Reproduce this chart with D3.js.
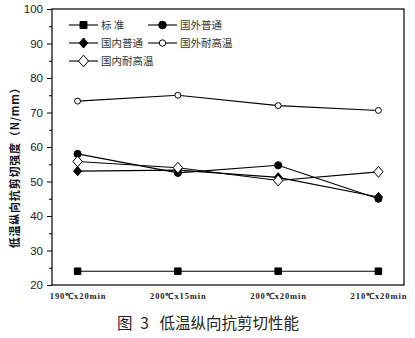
<!DOCTYPE html>
<html><head><meta charset="utf-8">
<script src="https://cdn.jsdelivr.net/npm/d3@7"></script>
<style>body{margin:0;background:#fff}svg{display:block}</style>
</head><body>
<svg id="c" width="415" height="338"></svg>
<script>
const categories = ["190℃x20min","200℃x15min","200℃x20min","210℃x20min"];
const seriesNames = ["标 准","国外普通","国内普通","国外耐高温","国内耐高温"];
const standard   = [24, 24, 24, 24];
const foreignGen = [58, 52.5, 54.7, 45];
const domesticGen= [53, 53.3, 51.2, 45.5];
const foreignHT  = [73.3, 75, 72, 70.6];
const domesticHT = [55.8, 54, 50.3, 52.8];
const yTicks = [20,30,40,50,60,70,80,90,100];
const yMinorTicks = [25,35,45,55,65,75,85,95];
const yLabel = "低温纵向抗剪切强度（N/mm）";
const title = "图\u20023\u2002\u2009低温纵向抗剪切性能";

const seriesValues = [standard, foreignGen, domesticGen, foreignHT, domesticHT];
const wideDiamond = { draw(ctx, size){ const h=Math.sqrt(size), w=h*0.85; ctx.moveTo(0,-h); ctx.lineTo(w,0); ctx.lineTo(0,h); ctx.lineTo(-w,0); ctx.closePath(); } };
const markerTypes = [
  {sym:d3.symbolSquare, size:42, fill:"#000"},
  {sym:d3.symbolCircle, size:40, fill:"#000"},
  {sym:wideDiamond, size:22, fill:"#000"},
  {sym:d3.symbolCircle, size:28, fill:"#fff"},
  {sym:wideDiamond, size:30, fill:"#fff"}
];

const svg = d3.select("#c");
const L=52, R=404, T=9, B=285;
const x = d3.scalePoint().domain(categories).range([L,R]).padding(0.255);
const y = d3.scaleLinear().domain([20,100]).range([B,T]);

svg.append("rect").attr("x",L).attr("y",T).attr("width",R-L).attr("height",B-T)
  .attr("fill","none").attr("stroke","#000").attr("stroke-width",1.2);

const yAx = svg.append("g").attr("transform",`translate(${L},0)`)
  .call(d3.axisLeft(y).tickValues(yTicks).tickSize(5).tickPadding(4).tickFormat(d3.format("d")));
yAx.select(".domain").remove();
yAx.selectAll("text").attr("font-family","Liberation Sans, Arial, sans-serif").attr("font-size","11.5px").attr("fill","#222");
yAx.selectAll("line").attr("stroke","#000");
const yMin = svg.append("g").attr("transform",`translate(${L},0)`)
  .call(d3.axisLeft(y).tickValues(yMinorTicks).tickSize(3).tickFormat(""));
yMin.select(".domain").remove();

const xAx = svg.append("g").attr("transform",`translate(0,${B})`)
  .call(d3.axisBottom(x).tickSize(0).tickPadding(8));
xAx.select(".domain").remove();
xAx.selectAll("text").attr("font-family","Liberation Serif, serif").attr("font-weight","bold")
  .attr("font-size","8.5px").attr("fill","#222").attr("letter-spacing","0.9px");

svg.append("text").attr("transform",`translate(19,${(T+B)/2 + 18}) rotate(-90)`)
  .attr("text-anchor","middle").attr("font-family","Noto Sans CJK SC, sans-serif")
  .attr("font-weight","bold").attr("font-size","11px").attr("fill","#112").attr("letter-spacing","0.8px").text(yLabel);

const line = d3.line().x((d,i)=>x(categories[i])).y(d=>y(d));
seriesValues.forEach((vals,k)=>{
  svg.append("path").datum(vals).attr("d",line).attr("fill","none").attr("stroke","#000").attr("stroke-width",1.1);
});
seriesValues.forEach((vals,k)=>{
  const m = markerTypes[k];
  svg.append("g").selectAll("path").data(vals).join("path")
    .attr("transform",(d,i)=>`translate(${x(categories[i])},${y(d)})`)
    .attr("d",d3.symbol().type(m.sym).size(m.size))
    .attr("fill",m.fill).attr("stroke","#000").attr("stroke-width",1);
});

const legendPos = [[69,25],[148,25],[69,43],[148,43],[69,61]];
seriesNames.forEach((name,k)=>{
  const [lx,ly] = legendPos[k];
  const g = svg.append("g").attr("transform",`translate(${lx},${ly})`);
  g.append("line").attr("x1",0).attr("x2",29).attr("y1",0).attr("y2",0).attr("stroke","#000").attr("stroke-width",1.1);
  const m = markerTypes[k];
  g.append("path").attr("transform","translate(14.5,0)").attr("d",d3.symbol().type(m.sym).size(m.size*1.15))
    .attr("fill",m.fill).attr("stroke","#000");
  g.append("text").attr("x",32).attr("y",4).attr("font-family","Noto Sans CJK SC, sans-serif")
    .attr("font-size","10.5px").attr("fill","#333").text(name);
});

svg.append("text").attr("x",208).attr("y",329).attr("text-anchor","middle")
  .attr("font-family","Noto Sans CJK SC, sans-serif").attr("font-size","15.5px").attr("fill","#222")
  .text(title);
</script>
</body></html>
